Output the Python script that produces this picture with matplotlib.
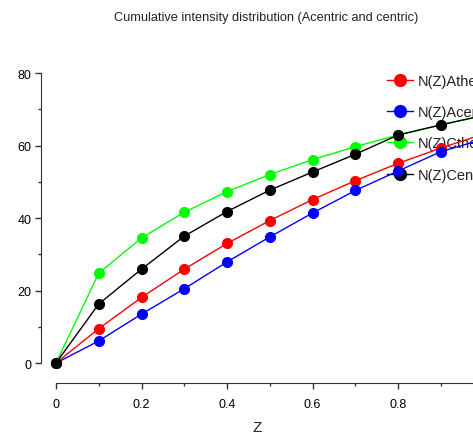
import matplotlib
matplotlib.use("Agg")
import matplotlib.pyplot as plt
from matplotlib.ticker import MultipleLocator, FuncFormatter

z = [0.0, 0.1, 0.2, 0.3, 0.4, 0.5, 0.6, 0.7, 0.8, 0.9, 1.0]
athe = [0, 9.5, 18.1, 25.9, 33.0, 39.3, 45.1, 50.3, 55.1, 59.3, 63.2]
acen = [0, 6.1, 13.5, 20.5, 27.9, 34.8, 41.4, 47.6, 53.0, 58.3, 61.8]
cthe = [0, 24.8, 34.5, 41.6, 47.3, 52.0, 56.1, 59.7, 62.9, 65.7, 68.3]
cen = [0, 16.3, 25.9, 35.0, 41.8, 47.7, 52.7, 57.6, 62.9, 65.7, 68.3]
labels = ["N(Z)Athe", "N(Z)Acen", "N(Z)Cthe", "N(Z)Cen"]
colors = ["#ff0000", "#0000ff", "#00ff00", "#000000"]

plt.rcParams["font.family"] = ["Liberation Sans", "DejaVu Sans"]

W, H = 473, 439
fig = plt.figure(figsize=(W / 100, H / 100), dpi=100)
left, right, bottom, top = 41, 473, 384, 72.2
ax = fig.add_axes([left / W, (H - bottom) / H, (right - left) / W, (bottom - top) / H])
ax.set_xlim(-0.035, 0.975)
ax.set_ylim(-5.5, 80.5)

series = [athe, acen, cthe, cen]
for s, c, lab in zip(series, colors, labels):
    ax.plot(z, s, color=c, lw=1.0, marker="o", ms=7, mec=c, mfc=c, label=lab, zorder=3)

for sp in ["top", "right"]:
    ax.spines[sp].set_visible(False)
ax.spines["left"].set_bounds(0, 80)
ax.spines["bottom"].set_bounds(0, 0.975)
ax.spines["left"].set_color("#333333")
ax.spines["bottom"].set_color("#333333")

ax.xaxis.set_major_locator(MultipleLocator(0.2))
ax.xaxis.set_minor_locator(MultipleLocator(0.1))
ax.yaxis.set_major_locator(MultipleLocator(20))
ax.yaxis.set_minor_locator(MultipleLocator(10))
ax.xaxis.set_major_formatter(FuncFormatter(lambda v, p: "0" if abs(v) < 1e-9 else f"{v:.1f}"))
ax.yaxis.set_major_formatter(FuncFormatter(lambda v, p: f"{v:.0f}"))
fs = 9
ax.tick_params(which="major", direction="out", length=4, width=1, color="#333333", labelsize=fs)
ax.tick_params(axis="x", which="major", pad=7)
ax.tick_params(axis="y", which="major", pad=3)
ax.tick_params(which="minor", direction="out", length=2, width=1, color="#333333")
ax.set_xlabel("Z", fontsize=fs + 2, labelpad=7, color="#222222")

fig.text(266 / W, 1 - 18 / H, "Cumulative intensity distribution (Acentric and centric)",
         ha="center", va="center", fontsize=9.2, color="#222222")

leg = ax.legend(loc="upper left", bbox_to_anchor=(387 / W, 1 - 75 / H), bbox_transform=fig.transFigure,
                frameon=False, fontsize=10.5, handlelength=1.75, handletextpad=0.35,
                labelspacing=1.18, borderaxespad=0, borderpad=0)
leg.set_zorder(2)
for t in leg.get_texts():
    t.set_color("#222222")
for h in leg.legend_handles:
    h.set_markersize(8.5)

fig.savefig("out.png", dpi=100)
